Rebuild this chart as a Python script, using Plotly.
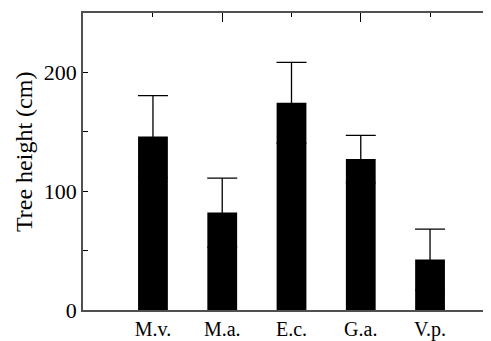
import plotly.graph_objects as go

species = ["M.v.", "M.a.", "E.c.", "G.a.", "V.p."]
height_cm = [146, 82, 174.5, 127, 42.5]
height_err = [34.5, 29, 34, 20, 25.5]
y_ticks = [0, 100, 200]
y_title = "Tree height (cm)"

FONT = "Liberation Serif, Times New Roman, serif"
AXC = "#505050"

fig = go.Figure()
fig.add_trace(go.Bar(
    x=species, y=height_cm, width=0.43,
    marker=dict(color="black", line=dict(width=0)),
    error_y=dict(type="data", array=height_err, symmetric=True,
                 color="black", thickness=1.3, width=15),
    showlegend=False,
))
# empty trace to carry the mirrored (top/right) tick axes
fig.add_trace(go.Scatter(x=[], y=[], xaxis="x2", yaxis="y2", showlegend=False))

xr = [-1.01, 4.88]
yr = [0, 250]
# page body has an 8px default margin: shrink the figure so the plot lands in place
fig.update_layout(
    width=483, height=333,
    margin=dict(l=75, r=0, t=5, b=31, autoexpand=False),
    paper_bgcolor="white", plot_bgcolor="white",
    font=dict(family=FONT, size=22, color="black"),
    xaxis=dict(range=xr, showline=True, linecolor=AXC, linewidth=1.5,
               ticks="", showgrid=False, zeroline=False, automargin=False,
               tickfont=dict(family=FONT, size=20, color="black")),
    yaxis=dict(range=yr, tickvals=y_ticks, ticks="inside", ticklen=5,
               tickcolor="black", tickwidth=1, automargin=False,
               showline=True, linecolor=AXC, linewidth=1.5,
               showgrid=False, zeroline=False,
               minor=dict(dtick=50, tick0=0, ticks="inside", ticklen=5, tickcolor="black"),
               tickfont=dict(family=FONT, size=22, color="black")),
    xaxis2=dict(overlaying="x", side="top", anchor="y", type="linear", range=xr,
                tick0=1, dtick=2, ticks="inside", ticklen=9, tickcolor="black", tickwidth=1,
                minor=dict(tick0=0, dtick=1, ticks="inside", ticklen=4, tickcolor="black"),
                showticklabels=False, showline=True, linecolor=AXC, linewidth=1.5,
                showgrid=False, zeroline=False, automargin=False),
    yaxis2=dict(overlaying="y", side="right", anchor="x", range=yr, tickvals=y_ticks,
                ticks="inside", ticklen=3, tickcolor="black", tickwidth=1, automargin=False,
                showticklabels=False, showline=False, showgrid=False, zeroline=False),
)
fig.add_annotation(text=y_title, textangle=-90, xref="paper", yref="paper",
                   x=-0.1446, y=0.532, xanchor="center", yanchor="middle",
                   showarrow=False, font=dict(family=FONT, size=24, color="black"))
fig.write_html("out.html")
